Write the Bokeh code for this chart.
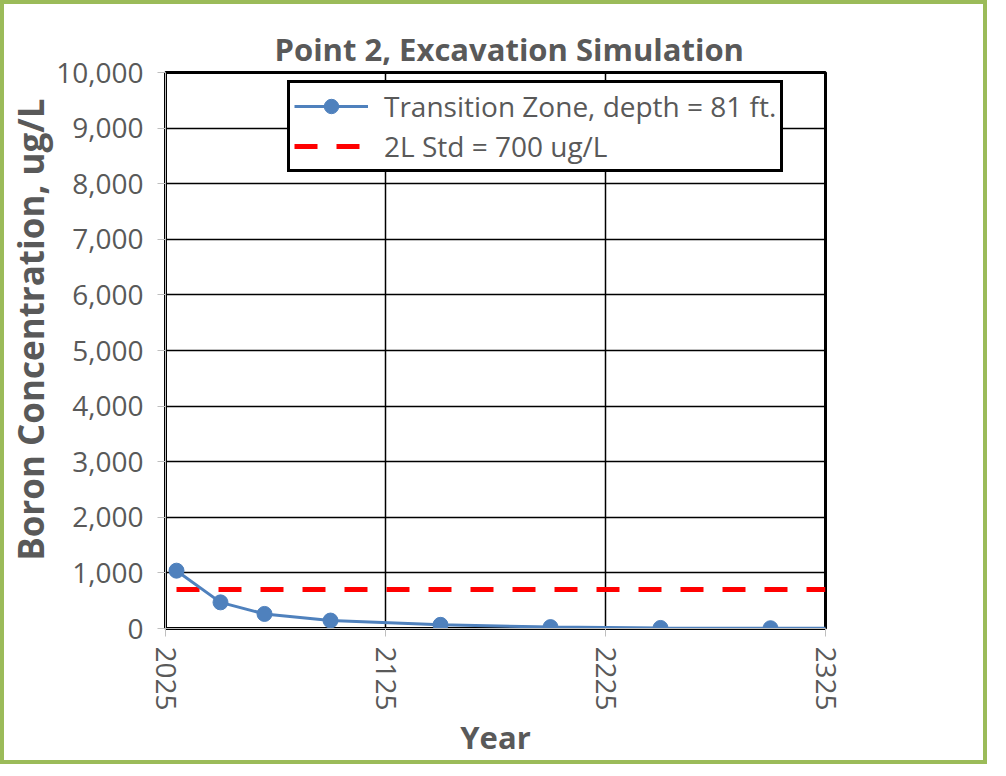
from bokeh.plotting import figure
from bokeh.models import Range1d, FixedTicker, NumeralTickFormatter, Legend, LegendItem, Title
from bokeh.embed import file_html
from bokeh.resources import INLINE

# Data
years = [2030, 2050, 2070, 2100, 2150, 2200, 2250, 2300, 2350]
boron = [1040, 470, 262, 143, 66, 25, 10, 5, 2]
std_years = [2030, 2325]
std_values = [700, 700]
x_ticks = [2025, 2125, 2225, 2325]
y_ticks = [0, 1000, 2000, 3000, 4000, 5000, 6000, 7000, 8000, 9000, 10000]

FONT = "Open Sans"
GRAY = "#595959"

p = figure(frame_width=660, frame_height=556,
           min_border_left=160, min_border_right=158,
           min_border_top=68, min_border_bottom=128,
           x_range=Range1d(2025, 2325), y_range=Range1d(0, 10000),
           output_backend="svg", toolbar_location=None)
p.styles = {"border": "4px solid #9BBB59"}

title = Title(text="Point 2, Excavation Simulation", align="left", offset=109,
              text_font=FONT, text_font_size="31px", text_font_style="bold",
              text_color=GRAY, standoff=6)
p.add_layout(title, "above")

ylab = Title(text="Boron Concentration, ug/L", align="right", offset=26,
             text_font=FONT, text_font_size="35px", text_font_style="bold",
             text_color=GRAY, standoff=0)
p.add_layout(ylab, "left")

p.outline_line_color = "black"
p.outline_line_width = 3
p.outline_line_alpha = 1
p.background_fill_color = "white"
p.border_fill_color = "white"

for ax in (p.xaxis[0], p.yaxis[0]):
    ax.axis_line_color = "#BFBFBF"
    ax.major_tick_line_color = "#BFBFBF"
    ax.major_tick_out = 8
    ax.major_tick_in = 0
    ax.minor_tick_out = 0
    ax.minor_tick_in = 0
    ax.major_label_text_font = FONT
    ax.major_label_text_font_size = "28px"
    ax.major_label_text_color = GRAY
    ax.axis_label_text_font = FONT
    ax.axis_label_text_font_style = "bold"
    ax.axis_label_text_color = GRAY

p.xaxis.axis_label_text_font_size = "31px"
p.xaxis.ticker = FixedTicker(ticks=x_ticks)
p.yaxis.ticker = FixedTicker(ticks=y_ticks)
p.yaxis.formatter = NumeralTickFormatter(format="0,0")
p.xaxis.major_label_orientation = "vertical"
p.xaxis.axis_label = "Year"
p.yaxis.major_label_standoff = 14
p.xaxis.major_label_standoff = 10
p.xaxis.axis_label_standoff = 2

p.xgrid.ticker = FixedTicker(ticks=x_ticks)
p.ygrid.ticker = FixedTicker(ticks=y_ticks)
p.grid.grid_line_color = "black"
p.grid.grid_line_width = 1.5
p.grid.grid_line_alpha = 1

blue = "#4F81BD"
std_r = p.line(std_years, std_values, line_color="red", line_width=5, line_dash="23 19")
line_r = p.line(years, boron, line_color=blue, line_width=3)
pts_r = p.scatter(years, boron, size=15, fill_color=blue, line_color=blue)

legend = Legend(items=[
    LegendItem(label="Transition Zone, depth = 81 ft.", renderers=[line_r, pts_r]),
    LegendItem(label="2L Std = 700 ug/L", renderers=[std_r]),
], location=(122, 456))
legend.border_line_color = "black"
legend.border_line_width = 3
legend.border_line_alpha = 1
legend.background_fill_color = "white"
legend.background_fill_alpha = 1
legend.label_text_font = FONT
legend.label_text_font_size = "28px"
legend.label_text_color = GRAY
legend.glyph_width = 74
legend.glyph_height = 36
legend.label_height = 36
legend.spacing = 2
legend.padding = 4
legend.margin = 0
legend.label_standoff = 16
p.add_layout(legend, "center")

open("out.html", "w").write(file_html(p, INLINE))
